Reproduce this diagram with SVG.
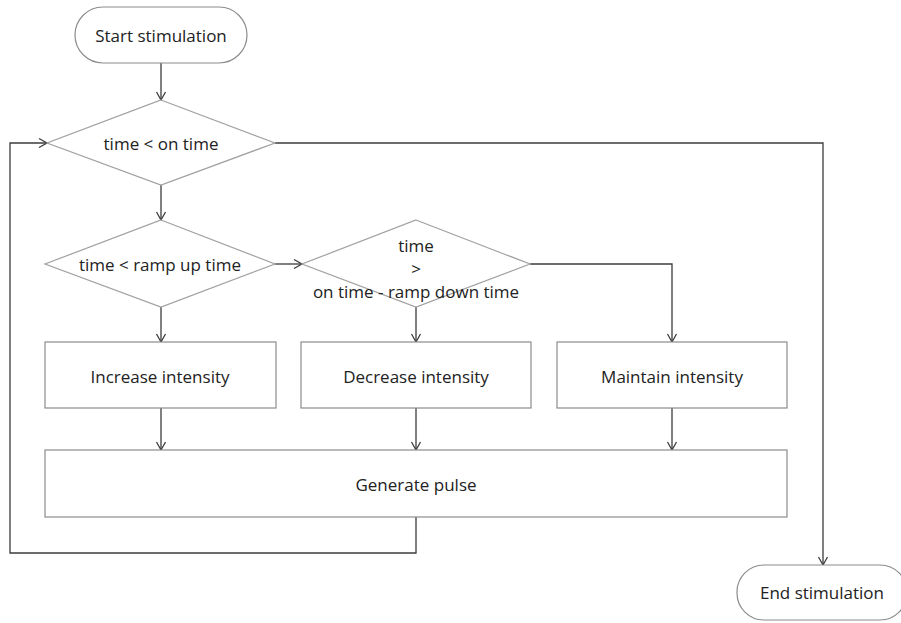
<svg xmlns="http://www.w3.org/2000/svg" width="901" height="623" viewBox="0 0 901 623">
<defs>
<style>
.shape{fill:#fff;stroke:#8c8c8c;stroke-width:1.2}
.dia{fill:#fff;stroke:#a0a0a0;stroke-width:1.2}
.conn{fill:none;stroke:#3c3c3c;stroke-width:1.3}
text{font-family:"Open Sans","Noto Sans","DejaVu Sans",sans-serif;font-size:17px;fill:#222;text-anchor:middle;dominant-baseline:central}
</style>
<marker id="arr" markerWidth="12" markerHeight="12" viewBox="0 0 12 12" refX="10" refY="6" orient="auto" markerUnits="userSpaceOnUse">
<path d="M2,1.5 L10,6 L2,10.5" fill="none" stroke="#3c3c3c" stroke-width="1.3"/>
</marker>
</defs>
<rect width="901" height="623" fill="#fff"/>
<g id="connectors">
<path class="conn" d="M161,63 V100" marker-end="url(#arr)"/>
<path class="conn" d="M161,185 V220" marker-end="url(#arr)"/>
<path class="conn" d="M275,264 H302" marker-end="url(#arr)"/>
<path class="conn" d="M275,143 H823 V565" marker-end="url(#arr)"/>
<path class="conn" d="M530,264 H672 V342" marker-end="url(#arr)"/>
<path class="conn" d="M161,307 V342" marker-end="url(#arr)"/>
<path class="conn" d="M416,307 V342" marker-end="url(#arr)"/>
<path class="conn" d="M161,408 V450" marker-end="url(#arr)"/>
<path class="conn" d="M416,408 V450" marker-end="url(#arr)"/>
<path class="conn" d="M672,408 V450" marker-end="url(#arr)"/>
<path class="conn" d="M416,517 V553 H10 V143 H47" marker-end="url(#arr)"/>
</g>
<g id="start">
<rect class="shape" x="75" y="7" width="172" height="56" rx="28"/>
<text x="161" y="35">Start stimulation</text>
</g>
<g id="cond_on_time">
<polygon class="dia" points="161,100 275,143 161,185 47,143"/>
<text x="161" y="143">time &lt; on time</text>
</g>
<g id="cond_ramp_up">
<polygon class="dia" points="161,220 275,264 161,307 45,264"/>
<text x="160" y="264">time &lt; ramp up time</text>
</g>
<g id="cond_ramp_down">
<polygon class="dia" points="416,220 530,264 416,307 302,264"/>
<text x="416" y="245"><tspan x="416" y="245">time</tspan><tspan x="416" y="268">&gt;</tspan><tspan x="416" y="291">on time - ramp down time</tspan></text>
</g>
<g id="increase">
<rect class="shape" x="45" y="342" width="231" height="66"/>
<text x="160" y="376">Increase intensity</text>
</g>
<g id="decrease">
<rect class="shape" x="301" y="342" width="230" height="66"/>
<text x="416" y="376">Decrease intensity</text>
</g>
<g id="maintain">
<rect class="shape" x="557" y="342" width="230" height="66"/>
<text x="672" y="376">Maintain intensity</text>
</g>
<g id="generate">
<rect class="shape" x="45" y="450" width="742" height="67"/>
<text x="416" y="484">Generate pulse</text>
</g>
<g id="end">
<rect class="shape" x="737" y="565" width="170" height="55" rx="27"/>
<text x="822" y="592">End stimulation</text>
</g>
</svg>
